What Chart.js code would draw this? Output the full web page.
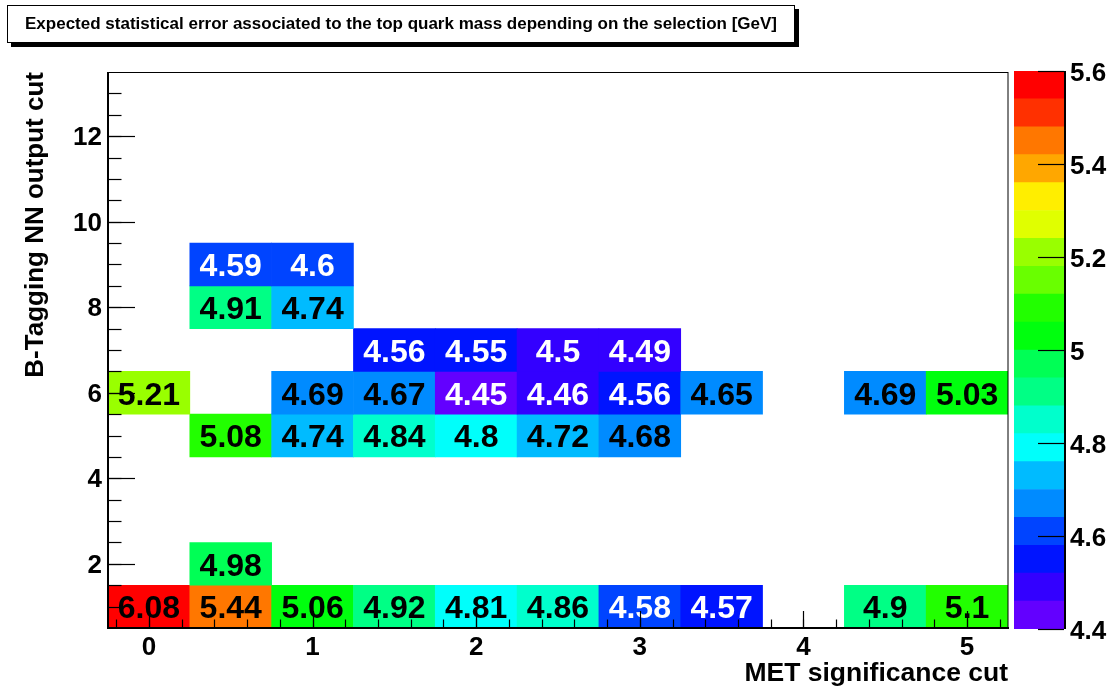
<!DOCTYPE html>
<html>
<head>
<meta charset="utf-8">
<script src="https://cdn.jsdelivr.net/npm/chart.js@4.4.0/dist/chart.umd.min.js"></script>
<style>
  html, body { margin: 0; padding: 0; background: #fff; }
  body { width: 1118px; height: 690px; position: relative; overflow: hidden; }
  #titulo {
    position: absolute; left: 7px; top: 5px; width: 786px; height: 36px;
    border: 1px solid #000; background: #fff; box-shadow: 4px 4px 0 #000;
    font: bold 17px "Liberation Sans", Arial, sans-serif; text-align: center; line-height: 36px;
  }
  #chMapa { position: absolute; left: 0; top: 0; }
  #chEscala { position: absolute; left: 1000px; top: 0; }
</style>
</head>
<body>
<canvas id="chMapa" width="1118" height="690"></canvas>
<canvas id="chEscala" width="118" height="690"></canvas>
<div id="titulo">Expected statistical error associated to the top quark mass depending on the selection [GeV]</div>
<script>
/* Mapa 2D (estilo ROOT COLZ TEXT): error estadistico esperado de la masa del top */
(function () {
  'use strict';

  // centros de bin en x (corte MET) y filas ocupadas en y (corte NN)
  var X_CENTROS = [0, 0.5, 1, 1.5, 2, 2.5, 3, 3.5, 4, 4.5, 5];
  var Y_FILAS = [1, 2, 5, 6, 7, 8, 9];

  // valores por fila (null = bin vacio)
  var FILA_1 = [6.08, 5.44, 5.059, 4.92, 4.81, 4.86, 4.58, 4.57, null, 4.9, 5.1];
  var FILA_2 = [null, 4.98, null, null, null, null, null, null, null, null, null];
  var FILA_5 = [null, 5.08, 4.74, 4.84, 4.8, 4.72, 4.68, null, null, null, null];
  var FILA_6 = [5.21, null, 4.69, 4.67, 4.45, 4.461, 4.56, 4.65, null, 4.69, 5.03];
  var FILA_7 = [null, null, null, 4.56, 4.55, 4.5, 4.49, null, null, null, null];
  var FILA_8 = [null, 4.91, 4.74, null, null, null, null, null, null, null, null];
  var FILA_9 = [null, 4.59, 4.6, null, null, null, null, null, null, null, null];
  var FILAS = [FILA_1, FILA_2, FILA_5, FILA_6, FILA_7, FILA_8, FILA_9];

  // ejes
  var X_TICKS = [0, 1, 2, 3, 4, 5];
  var Y_TICKS = [2, 4, 6, 8, 10, 12];
  var Z_TICKS = [4.4, 4.6, 4.8, 5, 5.2, 5.4, 5.6];

  // paleta de 20 contornos (violeta -> rojo) entre 4.4 y 5.6
  var Z_NIVELES = [4.4, 4.46, 4.52, 4.58, 4.64, 4.7, 4.76, 4.82, 4.88, 4.94, 5.0,
                   5.06, 5.12, 5.18, 5.24, 5.3, 5.36, 5.42, 5.48, 5.54, 5.6];
  var PALETA = ['#6300ff', '#3300ff', '#0014ff', '#0044ff', '#008bff', '#00bbff', '#00fffb',
                '#00ffcc', '#00ff85', '#00ff55', '#00ff0e', '#22ff00', '#69ff00', '#99ff00',
                '#e0ff00', '#ffee00', '#ffa700', '#ff7700', '#ff3000', '#ff0000'];

  var FUENTE = '"Liberation Sans", Arial, sans-serif';
  Chart.defaults.color = '#000';
  Chart.defaults.font.family = FUENTE;

  function banda(v) {
    for (var i = PALETA.length - 1; i > 0; i--) {
      if (v >= Z_NIVELES[i]) return i;
    }
    return 0;
  }

  function etiqueta(v) { return String(parseFloat(v.toPrecision(3))); }

  // celdas para barras flotantes
  var celdas = [];
  FILAS.forEach(function (fila, j) {
    fila.forEach(function (v, i) {
      if (v === null) return;
      celdas.push({ x: X_CENTROS[i], y: [Y_FILAS[j] - 0.5, Y_FILAS[j] + 0.5], v: v });
    });
  });

  function fijarTicks(vals) {
    return function (s) { s.ticks = vals.map(function (v) { return { value: v }; }); };
  }

  function linea(ctx, x1, y1, x2, y2) {
    ctx.beginPath(); ctx.moveTo(x1, y1); ctx.lineTo(x2, y2); ctx.stroke();
  }

  var marcoMapa = {
    id: 'marcoMapa',
    afterDatasetsDraw: function (chart) {
      var ctx = chart.ctx, a = chart.chartArea;
      var sx = chart.scales.x, sy = chart.scales.y;
      ctx.save();
      // textos de las celdas
      ctx.font = 'bold 32px ' + FUENTE;
      ctx.textAlign = 'center';
      ctx.textBaseline = 'middle';
      celdas.forEach(function (c) {
        ctx.fillStyle = banda(c.v) <= 3 ? '#fff' : '#000';
        ctx.fillText(etiqueta(c.v), sx.getPixelForValue(c.x), sy.getPixelForValue((c.y[0] + c.y[1]) / 2) + 3);
      });
      // marco
      ctx.strokeStyle = '#000';
      ctx.lineWidth = 1;
      linea(ctx, a.left, a.top + 0.5, a.right, a.top + 0.5);
      linea(ctx, a.right, a.top, a.right, a.bottom);
      ctx.lineWidth = 2;
      linea(ctx, a.left, a.top, a.left, a.bottom + 1);
      linea(ctx, a.left - 1, a.bottom, a.right + 1, a.bottom);
      // marcas hacia dentro
      ctx.lineWidth = 1.2;
      var v, px;
      for (v = -0.2; v < 5.25; v += 0.2) {
        px = Math.round(sx.getPixelForValue(v)) + 0.5;
        linea(ctx, px, a.bottom, px, a.bottom - 8.5);
      }
      X_TICKS.forEach(function (t) {
        px = Math.round(sx.getPixelForValue(t)) + 0.5;
        linea(ctx, px, a.bottom, px, a.bottom - 17);
      });
      for (v = 1; v < 13.5; v += 0.5) {
        px = Math.round(sy.getPixelForValue(v)) + 0.5;
        linea(ctx, a.left, px, a.left + 13.5, px);
      }
      Y_TICKS.forEach(function (t) {
        px = Math.round(sy.getPixelForValue(t)) + 0.5;
        linea(ctx, a.left, px, a.left + 27, px);
      });
      ctx.restore();
    }
  };

  var fTicks = { family: FUENTE, size: 26, weight: 'bold' };

  new Chart(document.getElementById('chMapa'), {
    type: 'bar',
    data: {
      datasets: [{
        data: celdas,
        backgroundColor: function (c) { return c.raw ? PALETA[banda(c.raw.v)] : '#fff'; },
        borderWidth: 0, barPercentage: 1, categoryPercentage: 1, grouped: false
      }]
    },
    options: {
      responsive: false, animation: false,
      layout: { padding: { left: 0, top: 72, right: 110, bottom: 0 } },
      plugins: { legend: { display: false }, tooltip: { enabled: false } },
      scales: {
        x: {
          type: 'linear', min: -0.25, max: 5.25, offset: false,
          grid: { display: false, drawTicks: false, offset: false }, border: { display: false },
          afterBuildTicks: fijarTicks(X_TICKS),
          afterFit: function (s) { s.height = 62; },
          ticks: { font: fTicks, padding: 4, maxRotation: 0, autoSkip: false,
            callback: function (v) { return String(v); } },
          title: { display: true, text: 'MET significance cut', align: 'end',
            font: { family: FUENTE, size: 26.5, weight: 'bold' }, padding: { top: 0, bottom: 0 } }
        },
        y: {
          type: 'linear', min: 0.5, max: 13.5,
          grid: { display: false, drawTicks: false }, border: { display: false },
          afterBuildTicks: fijarTicks(Y_TICKS),
          afterFit: function (s) { s.width = 108; },
          ticks: { font: fTicks, padding: 6, labelOffset: 2, autoSkip: false,
            callback: function (v) { return String(v); } },
          title: { display: true, text: 'B-Tagging NN output cut', align: 'end',
            font: { family: FUENTE, size: 26, weight: 'bold' }, padding: { top: 20, bottom: 0 } }
        }
      }
    },
    plugins: [marcoMapa]
  });

  // barra de colores
  var marcoEscala = {
    id: 'marcoEscala',
    afterDatasetsDraw: function (chart) {
      var ctx = chart.ctx, a = chart.chartArea, sz = chart.scales.y;
      ctx.save();
      ctx.strokeStyle = '#000';
      ctx.lineWidth = 2;
      linea(ctx, a.right + 1, a.top, a.right + 1, a.bottom);
      ctx.lineWidth = 1.2;
      Z_TICKS.forEach(function (t) {
        var py = Math.round(sz.getPixelForValue(t)) + 0.5;
        linea(ctx, a.right, py, a.right - 26, py);
      });
      ctx.restore();
    }
  };

  new Chart(document.getElementById('chEscala'), {
    type: 'bar',
    data: {
      labels: [''],
      datasets: PALETA.map(function (col, i) {
        return { data: [[Z_NIVELES[i], Z_NIVELES[i + 1]]], backgroundColor: col, borderWidth: 0,
          barPercentage: 1, categoryPercentage: 1, grouped: false };
      })
    },
    options: {
      responsive: false, animation: false,
      layout: { padding: { left: 14, top: 71, right: 0, bottom: 61 } },
      plugins: { legend: { display: false }, tooltip: { enabled: false } },
      scales: {
        x: { display: false },
        y: {
          position: 'right', min: 4.4, max: 5.6,
          grid: { display: false, drawTicks: false }, border: { display: false },
          afterBuildTicks: fijarTicks(Z_TICKS),
          afterFit: function (s) { s.width = 54; },
          ticks: { font: fTicks, padding: 6, labelOffset: 3, autoSkip: false,
            callback: function (v) { return String(parseFloat(v.toFixed(2))); } }
        }
      }
    },
    plugins: [marcoEscala]
  });
})();
</script>
</body>
</html>
